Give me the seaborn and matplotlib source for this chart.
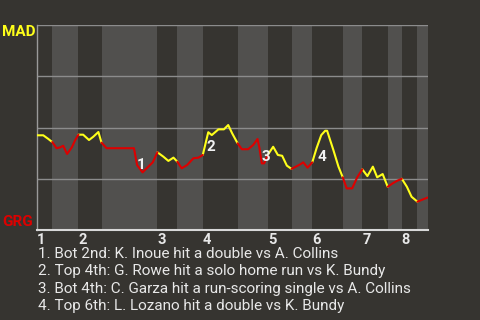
import matplotlib
matplotlib.use("Agg")
import matplotlib.pyplot as plt
import seaborn as sns
import pandas as pd
import numpy as np

# Teams
away_team = "MAD"
home_team = "GRG"

# Game progress (0-100) and MAD win probability (%) after each event
progress = [0.0, 1.6, 2.9, 3.9, 5.0, 5.9, 6.7, 7.7, 8.9, 9.7,
            10.6, 11.8, 13.3, 14.4, 15.7, 16.5, 17.8, 24.8, 25.6, 27.0,
            28.2, 29.6, 30.8, 32.3, 33.6, 34.9, 35.9, 37.0, 38.4, 40.0,
            41.3, 42.4, 43.8, 44.7, 46.4, 47.8, 48.9, 49.9, 51.3, 52.4,
            54.0, 55.3, 56.4, 56.9, 57.5, 58.1, 59.0, 60.4, 61.6, 62.7,
            63.9, 65.1, 66.2, 67.3, 68.1, 69.2, 70.4, 71.5, 72.7, 73.7,
            74.2, 75.8, 77.1, 78.2, 79.2, 80.6, 81.9, 83.2, 84.5, 85.9,
            87.0, 88.4, 89.7, 91.0, 92.1, 93.3, 94.6, 95.8, 97.3, 98.8,
            100.0]
mad_win_pct = [46.2, 46.2, 44.4, 42.9, 39.9, 40.3, 41.1, 37.1, 40.3, 43.6,
               46.5, 46.5, 43.9, 45.5, 47.8, 42.6, 39.9, 39.9, 31.7, 28.1,
               30.4, 33.0, 37.9, 35.8, 33.7, 35.3, 33.3, 30.1, 31.7, 35.0,
               35.3, 36.6, 47.7, 46.3, 49.1, 49.1, 51.2, 47.2, 42.3, 39.4,
               39.4, 41.5, 44.4, 39.9, 32.5, 32.5, 36.6, 40.6, 36.6, 36.2,
               31.4, 29.8, 30.9, 32.0, 33.0, 30.4, 33.0, 39.9, 46.3, 48.4,
               48.4, 39.0, 30.9, 25.7, 20.3, 20.3, 25.7, 29.6, 26.3, 30.9,
               25.7, 27.3, 21.1, 22.8, 24.0, 25.0, 21.1, 16.2, 13.8, 15.0,
               15.9]

# Start of each half-inning (top 1st, bot 1st, top 2nd, ...)
half_starts = [0.0, 3.9, 10.6, 16.5, 30.8, 35.9, 42.4, 51.3,
               59.0, 65.1, 70.4, 78.2, 83.2, 89.7, 93.3, 97.3]
inning_labels = ["1", "2", "3", "4", "5", "6", "7", "8"]

# Key plays
event_x = [26.5, 44.4, 58.5, 72.8]
event_y = [31.7, 40.3, 35.7, 35.6]
event_notes = [
    "1. Bot 2nd: K. Inoue hit a double vs A. Collins",
    "2. Top 4th: G. Rowe hit a solo home run vs K. Bundy",
    "3. Bot 4th: C. Garza hit a run-scoring single vs A. Collins",
    "4. Top 6th: L. Lozano hit a double vs K. Bundy",
]

BG = "#363430"
BAND = "#51504e"
TEXT = "#e8e8e8"
YELLOW = "#ffff1a"
RED = "#dd0000"

sns.set_theme(style="dark")
plt.rcParams["font.family"] = ["Roboto", "DejaVu Sans"]

fig = plt.figure(figsize=(4.8, 3.2), dpi=100, facecolor=BG)
ax = fig.add_axes([37 / 480, 1 - 230 / 320, 391 / 480, 205 / 320])
ax.set_facecolor(BG)

# Shade the bottom halves of each inning
ends = half_starts[1:] + [100.0]
for i, (a, b) in enumerate(zip(half_starts, ends)):
    if i % 2 == 1:
        ax.axvspan(a, b, color=BAND, lw=0, zorder=0.1)

# Split the line into runs by batting team
rows = []
seg = 0
prev = None
for i in range(len(progress) - 1):
    mid = (progress[i] + progress[i + 1]) / 2
    h = int(np.searchsorted(half_starts, mid, side="right")) - 1
    team = away_team if h % 2 == 0 else home_team
    if team != prev:
        seg += 1
        rows.append((seg, team, progress[i], mad_win_pct[i]))
        prev = team
    rows.append((seg, team, progress[i + 1], mad_win_pct[i + 1]))
df = pd.DataFrame(rows, columns=["seg", "team", "x", "p"])

sns.lineplot(data=df, x="x", y="p", hue="team", units="seg", estimator=None,
             sort=False, palette={away_team: YELLOW, home_team: RED},
             legend=False, lw=1.5, ax=ax, zorder=3)

for k, (ex, ey) in enumerate(zip(event_x, event_y)):
    ax.text(ex, ey, str(k + 1), ha="center", va="center", color="#f2f2f2",
            fontsize=11, fontweight="bold", zorder=4)

ax.set_xlim(0, 100)
ax.set_ylim(0, 100)
ax.set_yticks([0, 25, 50, 75, 100])
ax.set_yticklabels([])
ax.yaxis.grid(True, color="#8c8c8c", lw=1)
ax.xaxis.grid(False)
ax.set_axisbelow(True)
ax.set_xlabel("")
ax.set_ylabel("")

ax.set_xticks(half_starts[::2])
ax.set_xticklabels(inning_labels, ha="left", color=TEXT, fontsize=10.5,
                   fontweight="bold")
ax.tick_params(axis="x", length=0, pad=2)
ax.tick_params(axis="y", length=0)

for s in ("top", "right"):
    ax.spines[s].set_visible(False)
ax.spines["left"].set_visible(True)
ax.spines["left"].set_color("#9a9a9a")
ax.spines["left"].set_linewidth(1)
ax.spines["bottom"].set_visible(True)
ax.spines["bottom"].set_color("#d8d8d8")
ax.spines["bottom"].set_linewidth(1.5)

fig.text(2 / 480, 1 - 36 / 320, away_team, ha="left", va="baseline",
         color=YELLOW, fontsize=11, fontweight="bold")
fig.text(2 / 480, 1 - 226 / 320, home_team, ha="left", va="baseline",
         color=RED, fontsize=11, fontweight="bold")

for j, note in enumerate(event_notes):
    fig.text(38 / 480, 1 - (258 + 17.4 * j) / 320, note, ha="left",
             va="baseline", color=TEXT, fontsize=11)

fig.savefig("out.png", dpi=100, facecolor=BG)
